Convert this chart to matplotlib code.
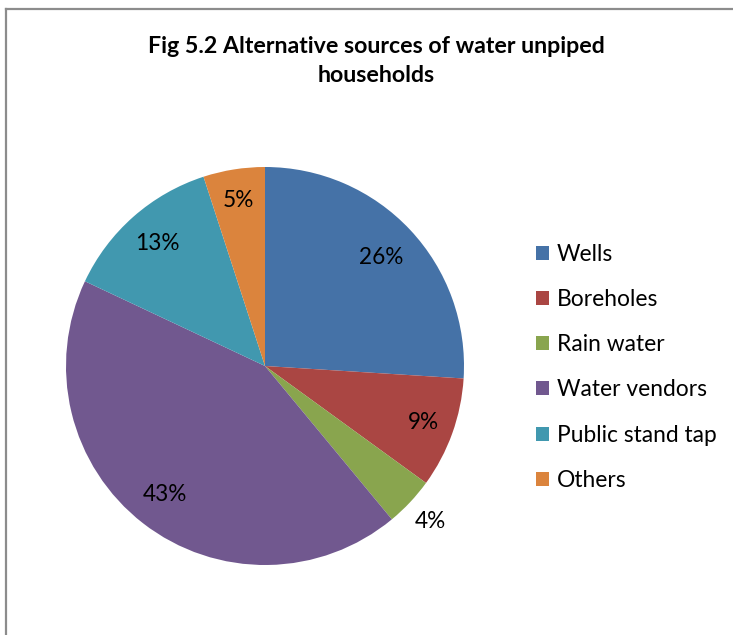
import numpy as np
import matplotlib
matplotlib.use("Agg")
import matplotlib.pyplot as plt
from matplotlib.lines import Line2D

# ---------------------- data ----------------------
sources = ["Wells", "Boreholes", "Rain water", "Water vendors", "Public stand tap", "Others"]
shares = [26, 9, 4, 43, 13, 5]
pct_labels = ["26%", "9%", "4%", "43%", "13%", "5%"]
title = "Fig 5.2 Alternative sources of water unpiped\nhouseholds"
# ---------------------------------------------------

colors = ["#4572A7", "#AA4643", "#89A54E", "#71588F", "#4198AF", "#DB843D"]
label_radius = [0.80, 0.845, 1.14, 0.82, 0.82, 0.84]

plt.rcParams["font.family"] = ["Lato", "DejaVu Sans"]

W, H = 733, 635
fig = plt.figure(figsize=(W / 100, H / 100), dpi=100)

# pie axes: centre (265, 366) px, radius 199 px
cx, cy, r = 265, 366, 199
ax = fig.add_axes([(cx - r) / W, (H - cy - r) / H, 2 * r / W, 2 * r / H])
wedges, _ = ax.pie(shares, colors=colors, startangle=90, counterclock=False,
                   radius=1.0, wedgeprops=dict(linewidth=0))
ax.set_xlim(-1, 1)
ax.set_ylim(-1, 1)
ax.set_aspect("equal")
ax.axis("off")

for w, lab, rr in zip(wedges, pct_labels, label_radius):
    ang = np.deg2rad((w.theta1 + w.theta2) / 2)
    ax.text(rr * np.cos(ang), rr * np.sin(ang), lab, ha="center", va="center",
            fontsize=16.3, color="#000000")

fig.text(376 / W, 1 - 61 / H, title, ha="center", va="center", fontsize=16.7,
         fontweight="bold", linespacing=1.45)

fig.legend(wedges, sources, loc="upper left", bbox_to_anchor=(536 / W, 1 - 244 / H),
           bbox_transform=fig.transFigure, frameon=False, fontsize=16.4,
           handlelength=0.57, handleheight=0.57, handletextpad=0.35,
           labelspacing=1.06, borderpad=0, borderaxespad=0)

# chart border (top and left edges visible)
fig.add_artist(Line2D([5.5 / W, 1], [1 - 8.5 / H, 1 - 8.5 / H], transform=fig.transFigure,
                      color="#8C8C8C", lw=1.6))
fig.add_artist(Line2D([5.5 / W, 5.5 / W], [0, 1 - 8.5 / H], transform=fig.transFigure,
                      color="#8C8C8C", lw=1.6))

fig.savefig("out.png", dpi=100, facecolor="white")
